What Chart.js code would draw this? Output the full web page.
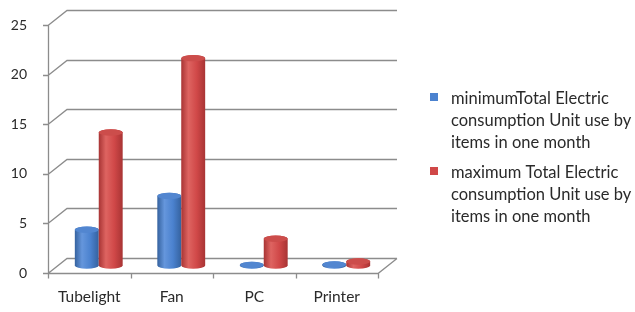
<!DOCTYPE html>
<html>
<head>
<meta charset="utf-8">
<script src="https://cdn.jsdelivr.net/npm/chart.js@4.4.1/dist/chart.umd.min.js"></script>
<style>
  html, body { margin: 0; padding: 0; background: #fff; }
</style>
</head>
<body>
<canvas id="myChart" width="635" height="312"></canvas>
<script>
const items = ['Tubelight', 'Fan', 'PC', 'Printer'];
const minUnits = [3.6, 7.0, 0.05, 0.1];
const maxUnits = [13.4, 20.9, 2.7, 0.4];
const yTicks = [0, 5, 10, 15, 20, 25];
const minLabel = ['minimumTotal Electric', 'consumption Unit use by', 'items in one month'];
const maxLabel = ['maximum Total Electric', 'consumption Unit use by', 'items in one month'];

const FONT = 'Lato, "Open Sans", sans-serif';
const TEXT = '#2a2a2a';
const GRID = '#8c8c8c';
// depth of the fake 3d box
const DX = 19, DY = -15;

const palette = [
  { dark: '#35629f', light: '#6596dc', mid: '#4b82cf', top: '#5286d0' },
  { dark: '#a83434', light: '#de6461', mid: '#d04848', top: '#cc4d4b' }
];

const drawCylinder = (ctx, cx, top, bottom, w, c) => {
  const rx = w / 2;
  const ry = 3.2;
  const g = ctx.createLinearGradient(cx - rx, 0, cx + rx, 0);
  g.addColorStop(0, c.dark);
  g.addColorStop(0.3, c.light);
  g.addColorStop(0.65, c.mid);
  g.addColorStop(1, c.dark);
  ctx.fillStyle = g;
  ctx.beginPath();
  ctx.moveTo(cx - rx, top);
  ctx.lineTo(cx - rx, bottom);
  ctx.ellipse(cx, bottom, rx, ry, 0, Math.PI, 0, true);
  ctx.lineTo(cx + rx, top);
  ctx.ellipse(cx, top, rx, ry, 0, 0, Math.PI, true);
  ctx.closePath();
  ctx.fill();
  ctx.fillStyle = c.top;
  ctx.beginPath();
  ctx.ellipse(cx, top, rx, ry, 0, 0, Math.PI * 2);
  ctx.fill();
};

const wallPlugin = {
  id: 'walls',
  beforeDatasetsDraw(chart) {
    const { ctx, chartArea: a, scales: { x, y } } = chart;
    ctx.save();
    ctx.strokeStyle = GRID;
    ctx.lineWidth = 1.3;
    ctx.beginPath();
    y.ticks.forEach(t => {
      const py = Math.round(y.getPixelForValue(t.value)) + 0.5;
      ctx.moveTo(a.left, py);
      ctx.lineTo(a.left + DX, py + DY);
      ctx.lineTo(a.right + DX, py + DY);
      // tick mark on the front axis
      ctx.moveTo(a.left - 5, py);
      ctx.lineTo(a.left, py);
    });
    // floor front edge and right side
    const by = Math.round(a.bottom) + 0.5;
    ctx.moveTo(a.left, by);
    ctx.lineTo(a.right, by);
    ctx.lineTo(a.right + DX, by + DY);
    // front vertical axis
    ctx.moveTo(a.left + 0.5, Math.round(y.getPixelForValue(25)) + 0.5);
    ctx.lineTo(a.left + 0.5, by);
    // category tick marks
    for (let i = 0; i <= items.length; i++) {
      const px = Math.round(x.getPixelForValue(i - 0.5)) + 0.5;
      ctx.moveTo(px, by);
      ctx.lineTo(px, by + 5);
    }
    ctx.stroke();
    ctx.restore();
  }
};

const cylinderPlugin = {
  id: 'cylinders',
  afterDatasetsDraw(chart) {
    const { ctx } = chart;
    ctx.save();
    chart.data.datasets.forEach((ds, i) => {
      const meta = chart.getDatasetMeta(i);
      meta.data.forEach(el => {
        const { x, y, base, width } = el.getProps(['x', 'y', 'base', 'width'], true);
        drawCylinder(ctx, x + DX / 2, y + DY / 2, base + DY / 2, width, palette[i]);
      });
    });
    ctx.restore();
  }
};

const legendPlugin = {
  id: 'sideLegend',
  afterDraw(chart) {
    const { ctx } = chart;
    const starts = [104, 178];
    ctx.save();
    ctx.font = '16.5px ' + FONT;
    ctx.textBaseline = 'alphabetic';
    chart.data.datasets.forEach((ds, i) => {
      const y0 = starts[i];
      ctx.fillStyle = palette[i].mid;
      ctx.fillRect(430, y0 - 11, 8, 8);
      ctx.fillStyle = TEXT;
      ds.label.forEach((line, j) => {
        ctx.fillText(line, 451, y0 + j * 22);
      });
    });
    ctx.restore();
  }
};

const ctx = document.getElementById('myChart');

const chart = new Chart(ctx, {
  type: 'bar',
  data: {
    labels: items,
    datasets: [{
      label: minLabel,
      data: minUnits,
      backgroundColor: 'rgba(0,0,0,0)',
      barPercentage: 1,
      categoryPercentage: 0.58
    },
    {
      label: maxLabel,
      data: maxUnits,
      backgroundColor: 'rgba(0,0,0,0)',
      barPercentage: 1,
      categoryPercentage: 0.58
    }]
  },
  options: {
    responsive: false,
    animation: false,
    devicePixelRatio: 1,
    layout: {
      padding: { top: 25, right: 257, bottom: 0, left: 0 }
    },
    plugins: {
      legend: { display: false },
      tooltip: { enabled: false }
    },
    scales: {
      x: {
        grid: { display: false, drawTicks: false },
        border: { display: false },
        ticks: {
          color: TEXT,
          font: { family: FONT, size: 15.5 },
          padding: 15,
          maxRotation: 0
        },
        afterFit: s => { s.height = 39; }
      },
      y: {
        min: 0,
        max: 25,
        grid: { display: false, drawTicks: false },
        border: { display: false },
        afterBuildTicks: s => { s.ticks = yTicks.map(v => ({ value: v })); },
        ticks: {
          color: TEXT,
          font: { family: FONT, size: 14 },
          padding: 21
        },
        afterFit: s => {
          s.width = 48;
          s.paddingTop = 0;
          s.paddingBottom = 0;
        }
      }
    }
  },
  plugins: [wallPlugin, cylinderPlugin, legendPlugin]
});
</script>
</body>
</html>
